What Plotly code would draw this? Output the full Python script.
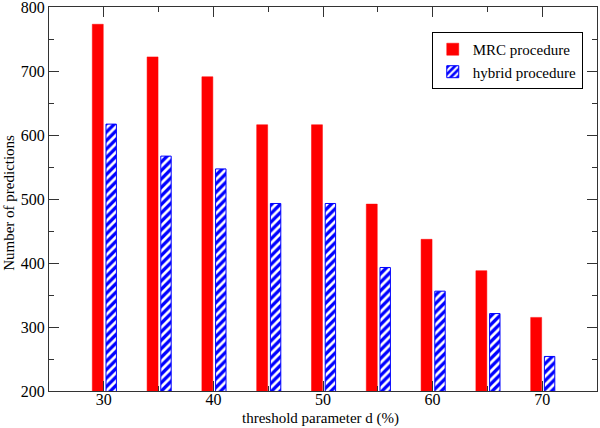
import plotly.graph_objects as go

thresholds = [30, 35, 40, 45, 50, 55, 60, 65, 70]
mrc_values = [773, 722, 691, 616, 616, 492, 437, 388, 315]
hybrid_values = [617, 567, 547, 493, 493, 393, 356, 321, 254]

font_family = "Liberation Serif, Times New Roman, serif"

fig = go.Figure()
fig.add_trace(go.Bar(
    x=thresholds, y=mrc_values, base=0, name="MRC procedure",
    width=1.0, offset=-1.05,
    marker=dict(color="#ff0000", line=dict(color="#ff0000", width=0.5)),
))
fig.add_trace(go.Bar(
    x=thresholds, y=hybrid_values, base=0, name="hybrid procedure",
    width=0.95, offset=0.2,
    marker=dict(color="#0000ff", line=dict(color="#0000ff", width=1),
                pattern=dict(shape="/", bgcolor="#0000ff", fgcolor="#ffffff",
                             size=6, solidity=0.45, fillmode="replace")),
))

axis_common = dict(
    showline=True, linecolor="#333333", linewidth=1.2, mirror="allticks",
    ticks="inside", ticklen=10, tickwidth=1.2, tickcolor="#333333",
    showgrid=False, zeroline=False, automargin=False,
    ticklabeloverflow="allow",
    tickfont=dict(family=font_family, size=16, color="#000000"),
)

fig.update_layout(
    width=600, height=428,
    margin=dict(l=49, r=3, t=7, b=37, autoexpand=False),
    paper_bgcolor="white", plot_bgcolor="white",
    barmode="overlay",
    showlegend=True,
    legend=dict(x=0.974, y=0.935, xanchor="right", yanchor="top",
                bordercolor="#000000", borderwidth=1, bgcolor="white",
                font=dict(family=font_family, size=15, color="#000000"),
                itemwidth=30, tracegroupgap=0),
    xaxis=dict(range=[25, 75], dtick=10, tick0=30, ticklabelstandoff=-6,
               minor=dict(dtick=5, ticks="inside", ticklen=5, tickcolor="#333333"),
               **axis_common),
    yaxis=dict(range=[200, 800], dtick=100,
               minor=dict(dtick=50, ticks="inside", ticklen=5, tickcolor="#333333"),
               **axis_common),
    annotations=[
        dict(text="threshold parameter d (%)", xref="paper", yref="paper",
             x=0.495, y=-0.0, yshift=-27, xanchor="center", yanchor="middle",
             showarrow=False, font=dict(family=font_family, size=15, color="#000000")),
        dict(text="Number of predictions", xref="paper", yref="paper",
             x=0, xshift=-40, y=0.49, xanchor="center", yanchor="middle", textangle=-90,
             showarrow=False, font=dict(family=font_family, size=15, color="#000000")),
    ],
)

post = ("document.body.style.margin='0';document.body.style.padding='0';"
        "document.documentElement.style.overflow='hidden';")

fig.write_html("out.html", post_script=post,
               config={"responsive": False, "displayModeBar": False})
